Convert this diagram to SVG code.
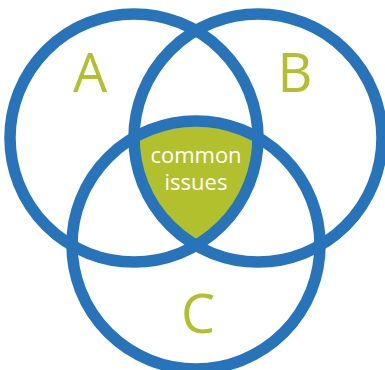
<svg xmlns="http://www.w3.org/2000/svg" width="385" height="370" viewBox="0 0 385 370">
  <style>
    .ring { fill: none; stroke: #2774BA; stroke-width: 11.5; }
    .set-label { fill: #B2C02E; font-family: "Open Sans", "Liberation Sans", sans-serif; font-size: 54px; text-anchor: middle; }
    .core-label { fill: #FFFFFF; font-family: "Open Sans", "Liberation Sans", sans-serif; font-size: 22px; text-anchor: middle; }
  </style>
  <defs>
    <clipPath id="clipA"><circle cx="134" cy="138" r="124"/></clipPath>
    <clipPath id="clipB"><circle cx="258" cy="138" r="124"/></clipPath>
  </defs>

  <!-- shared region of all three sets -->
  <g id="common">
    <g clip-path="url(#clipA)">
      <g clip-path="url(#clipB)">
        <circle cx="196" cy="245" r="124" fill="#B2C02E"/>
      </g>
    </g>
  </g>

  <g id="set-a">
    <circle class="ring" cx="134" cy="138" r="124"/>
    <text class="set-label" x="90" y="92">A</text>
  </g>
  <g id="set-b">
    <circle class="ring" cx="258" cy="138" r="124"/>
    <text class="set-label" x="295" y="92">B</text>
  </g>
  <g id="set-c">
    <circle class="ring" cx="196" cy="245" r="124"/>
    <text class="set-label" x="198" y="333">C</text>
  </g>

  <g id="common-label">
    <text class="core-label" x="196" y="163">common</text>
    <text class="core-label" x="196" y="190">issues</text>
  </g>
</svg>
